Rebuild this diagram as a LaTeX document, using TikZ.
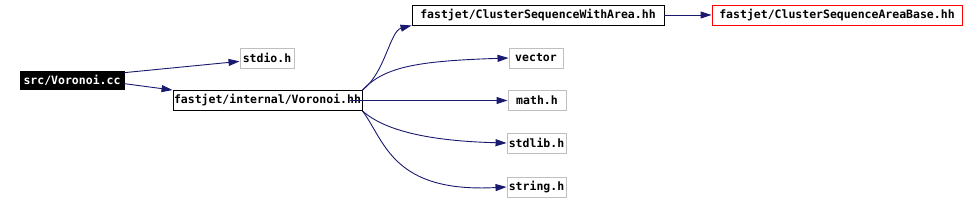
\documentclass[tikz,border=0pt]{standalone}
\usepackage{fontspec}
\setmonofont{DejaVu Sans Mono}
\usetikzlibrary{arrows.meta}
\definecolor{edgeblue}{HTML}{191970}
\definecolor{sysgray}{HTML}{BFBFBF}

\begin{document}
\begin{tikzpicture}[
  x=1pt, y=1pt,
  box/.style={draw=black, line width=0.9pt, inner sep=0pt, minimum height=20pt,
              font=\ttfamily\bfseries\fontsize{11.5}{13}\selectfont},
  sys/.style={box, draw=sysgray},
  arr/.style={-{Triangle[length=11pt, width=7pt]}, draw=edgeblue, line width=0.9pt}]
  \useasboundingbox (0,0) rectangle (977,201);
  \node[box, fill=black, text=white, minimum width=104, minimum height=18] (src) at (72,121) {src/Voronoi.cc};
  \node[sys, minimum width=54] (stdio) at (267,143) {stdio.h};
  \node[box, minimum width=189] (vor) at (267.5,100.5) {fastjet/internal/Voronoi.hh};
  \node[box, minimum width=252] (cswa) at (538,186) {fastjet/ClusterSequenceWithArea.hh};
  \node[box, draw=red, minimum width=250] (csab) at (837,186) {fastjet/ClusterSequenceAreaBase.hh};
  \node[sys, minimum width=54] (vector) at (536,143) {vector};
  \node[sys, minimum width=58] (math) at (537,100.5) {math.h};
  \node[sys, minimum width=59] (stdlib) at (536.5,58) {stdlib.h};
  \node[sys, minimum width=59] (string) at (536.5,14) {string.h};
  \draw[arr] (src.8) -- (stdio.187);
  \draw[arr] (src.-4) -- (vor.north west);
  \draw[arr] (vor.north east) .. controls (385,128) and (390,170) .. (cswa.south west);
  \draw[arr] (vor.north east) .. controls (385,135) and (420,140) .. (vector.west);
  \draw[arr] ([xshift=-12pt]vor.east) -- (math.west);
  \draw[arr] (vor.south east) .. controls (385,70) and (430,60) .. (stdlib.west);
  \draw[arr] (vor.south east) .. controls (385,60) and (392,8) .. (string.west);
  \draw[arr] (cswa.east) -- (csab.west);
\end{tikzpicture}
\end{document}
